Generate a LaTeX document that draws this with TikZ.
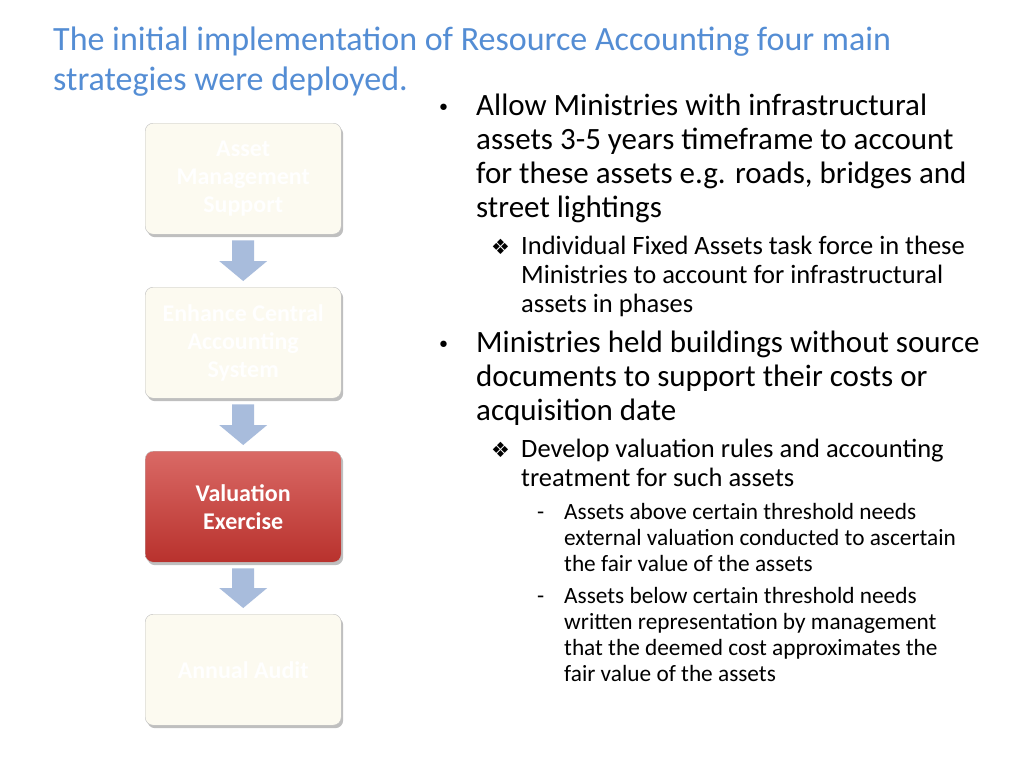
\documentclass[tikz,border=0pt]{standalone}
\usepackage{fontspec}
\setmainfont{Carlito}
\newfontfamily\symf{DejaVu Sans}
\usetikzlibrary{shadows,calc}
\definecolor{titleblue}{RGB}{84,141,212}
\definecolor{cream}{RGB}{252,250,240}
\definecolor{redbox}{RGB}{205,55,50}
\definecolor{arrowblue}{RGB}{168,188,220}
\begin{document}
\begin{tikzpicture}[x=1pt,y=-1pt,
 stepbox/.style={draw=black!25,rounded corners=8pt,minimum width=196pt,minimum height=111pt,anchor=north west,align=center,font=\fontsize{24}{28}\selectfont\bfseries,drop shadow={shadow xshift=2pt,shadow yshift=-3pt,opacity=0.5}},
 faint/.style={stepbox,fill=cream,text=white},
 hot/.style={stepbox,top color=redbox!75!white,bottom color=redbox!90!black,text=white},
 L1/.style={anchor=base west,inner sep=0,font=\fontsize{31}{33}\selectfont},
 L2/.style={anchor=base west,inner sep=0,font=\fontsize{26.5}{28}\selectfont},
 L3/.style={anchor=base west,inner sep=0,font=\fontsize{23.3}{25}\selectfont},
 ttl/.style={anchor=base west,inner sep=0,font=\fontsize{34}{36}\selectfont,text=titleblue}]
\useasboundingbox (0,0) rectangle (1024,768);
\fill[white] (0,0) rectangle (1024,768);
\node[ttl] (t1) at (53,50) {The initial implementation of Resource Accounting four main};
\node[ttl] (t2) at (53,90) {strategies were deployed.};
\node[faint] (b1) at (145,123) {Asset\\Management\\Support};
\node[faint] (b2) at (145,287) {Enhance Central\\Accounting\\System};
\node[hot] (b3) at (145,451) {Valuation\\Exercise};
\node[faint] (b4) at (145,614) {Annual Audit};
\foreach \a/\b in {b1/b2,b2/b3,b3/b4}{
 \path (\a.south) ++(0,6) coordinate (s) (\b.north) ++(0,-6) coordinate (e);
 \fill[arrowblue] ($(s)+(-11,0)$) -- ($(s)+(11,0)$) -- ($(e)+(11,-20)$) -- ($(e)+(24,-20)$) -- (e) -- ($(e)+(-24,-20)$) -- ($(e)+(-11,-20)$) -- cycle;
}
\node[L1] (p0) at (437,115) {\symf\fontsize{22}{24}\selectfont•};
\node[L1] (p1) at (476,115) {Allow Ministries with infrastructural};
\node[L1] (p2) at (476,149) {assets 3-5 years timeframe to account};
\node[L1] (p3) at (476,183) {for these assets e.g. roads, bridges and};
\node[L1] (p4) at (476,217) {street lightings};
\node[L2] (q0) at (491,254) {\symf\fontsize{21}{23}\selectfont ❖};
\node[L2] (q1) at (521,254) {Individual Fixed Assets task force in these};
\node[L2] (q2) at (521,283) {Ministries to account for infrastructural};
\node[L2] (q3) at (521,312) {assets in phases};
\node[L1] (r0) at (437,352) {\symf\fontsize{22}{24}\selectfont•};
\node[L1] (r1) at (476,352) {Ministries held buildings without source};
\node[L1] (r2) at (476,386) {documents to support their costs or};
\node[L1] (r3) at (476,420) {acquisition date};
\node[L2] (s0) at (491,457) {\symf\fontsize{21}{23}\selectfont ❖};
\node[L2] (s1) at (521,457) {Develop valuation rules and accounting};
\node[L2] (s2) at (521,486) {treatment for such assets};
\node[L3] (u0) at (537,519) {-};
\node[L3] (u1) at (564,519) {Assets above certain threshold needs};
\node[L3] (u2) at (564,545) {external valuation conducted to ascertain};
\node[L3] (u3) at (564,571) {the fair value of the assets};
\node[L3] (v0) at (537,603) {-};
\node[L3] (v1) at (564,603) {Assets below certain threshold needs};
\node[L3] (v2) at (564,629) {written representation by management};
\node[L3] (v3) at (564,655) {that the deemed cost approximates the};
\node[L3] (v4) at (564,681) {fair value of the assets};
\end{tikzpicture}
\end{document}
